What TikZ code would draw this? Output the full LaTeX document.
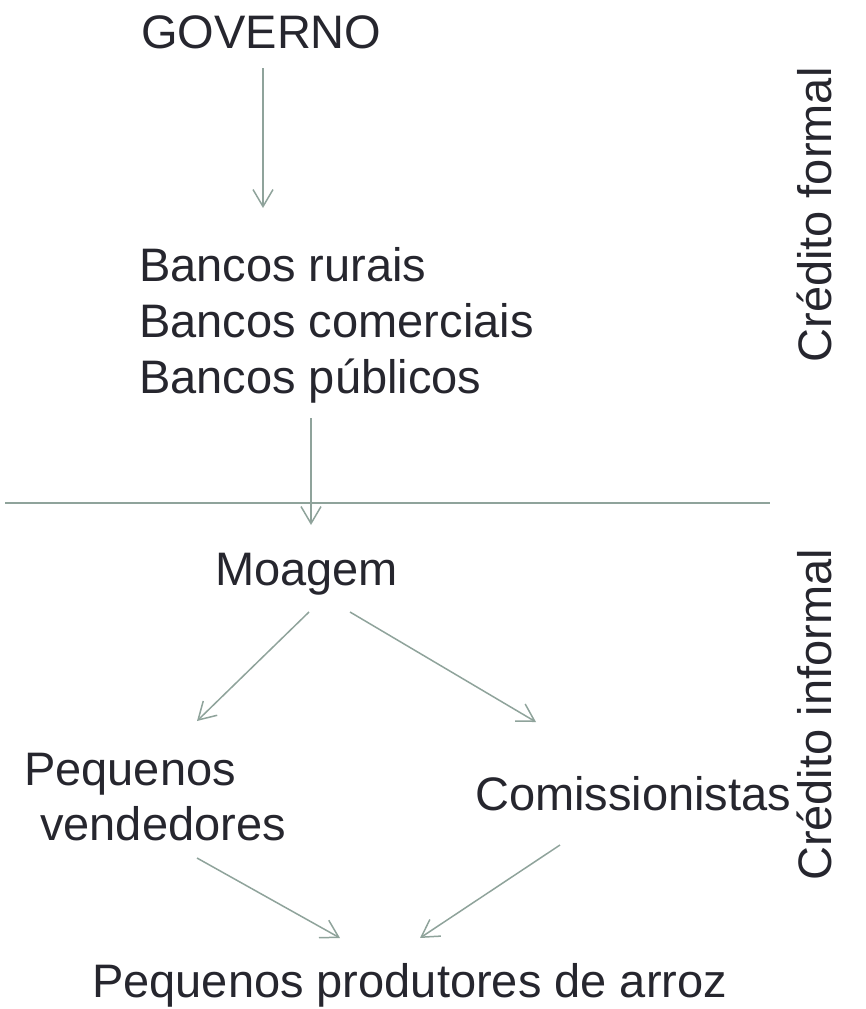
\documentclass[tikz,border=0pt]{standalone}
\usepackage{fontspec}
\setmainfont{Liberation Sans}
\usetikzlibrary{arrows.meta}
\definecolor{lc}{RGB}{143,163,155}
\definecolor{tc}{RGB}{38,38,46}
\begin{document}
\begin{tikzpicture}[x=1pt,y=-1pt,
  lbl/.style={inner sep=0pt,text=tc,font=\fontsize{47}{56}\selectfont},
  conn/.style={draw=lc,line width=1.5pt,-{Straight Barb[length=17pt,width=20pt,line width=1.5pt]}}]
\useasboundingbox (0,0) rectangle (866,1009);
\node[lbl,anchor=base west] (gov) at (141,48) {GOVERNO};
\node[lbl,anchor=base west,align=left] (bancos) at (139,393) {Bancos rurais\\Bancos comerciais\\Bancos públicos};
\node[lbl,anchor=base west] (moag) at (215,585) {Moagem};
\node[lbl,anchor=base west] (pv1) at (24,785) {Pequenos};
\node[lbl,anchor=base west] (pv2) at (40,840) {vendedores};
\node[lbl,anchor=base west] (com) at (475,810) {Comissionistas};
\node[lbl,anchor=base west] (prod) at (92,997) {Pequenos produtores de arroz};
\node[lbl,rotate=90,anchor=base] (cf) at (831,215) {Crédito formal};
\node[lbl,rotate=90,anchor=base] (ci) at (831,715) {Crédito informal};
\coordinate (hl) at (5,503);
\coordinate (hr) at (770,503);
\draw[lc,line width=1.5pt] (hl) -- (hr);
\coordinate (a1s) at (263,68); \coordinate (a1e) at (263,208);
\draw[conn] (a1s) -- (a1e);
\coordinate (a2s) at (311,418); \coordinate (a2e) at (311,525);
\draw[conn] (a2s) -- (a2e);
\coordinate (a3s) at (309,612); \coordinate (a3e) at (197,721);
\draw[conn] (a3s) -- (a3e);
\coordinate (a4s) at (350,612); \coordinate (a4e) at (536,722);
\draw[conn] (a4s) -- (a4e);
\coordinate (a5s) at (197,858); \coordinate (a5e) at (340,938);
\draw[conn] (a5s) -- (a5e);
\coordinate (a6s) at (560,845); \coordinate (a6e) at (420,938);
\draw[conn] (a6s) -- (a6e);
\end{tikzpicture}
\end{document}
